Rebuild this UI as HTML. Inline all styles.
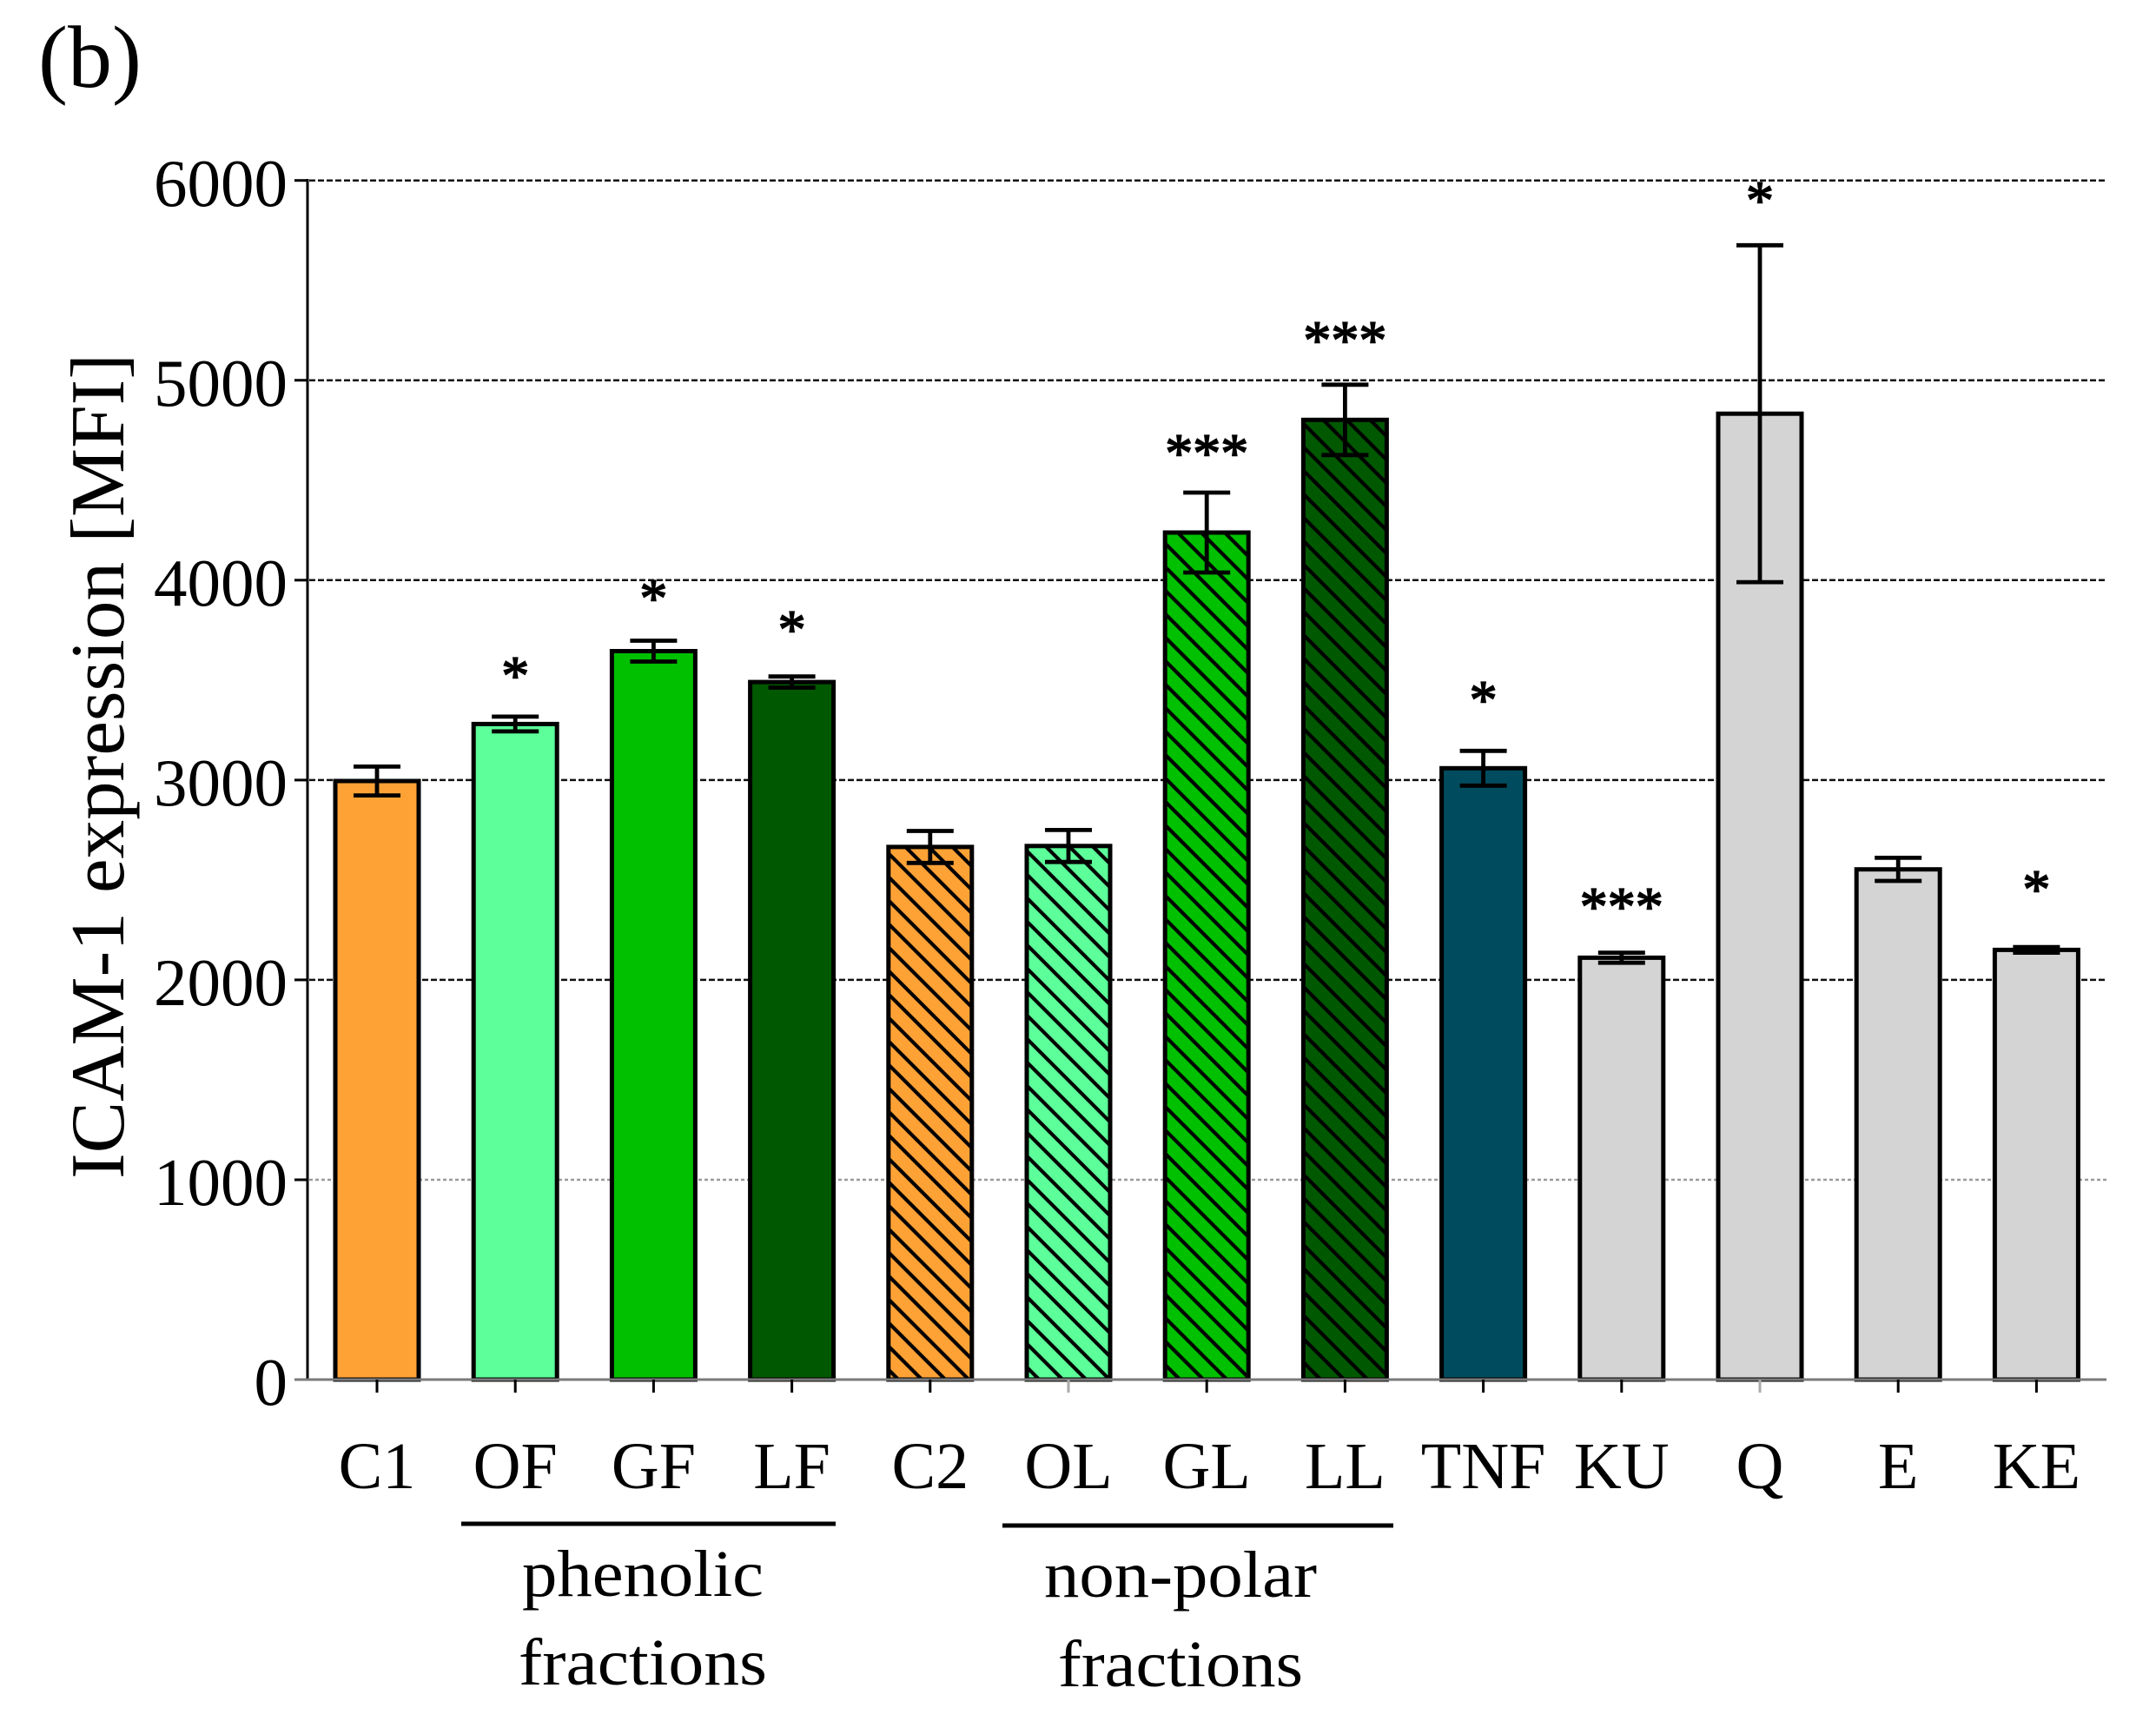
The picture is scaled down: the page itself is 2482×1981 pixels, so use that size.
<!DOCTYPE html>
<html>
<head>
<meta charset="utf-8">
<style>
  html, body { margin:0; padding:0; background:#fff; }
  svg { display:block; }
  text { font-family: "Liberation Serif", "DejaVu Serif", serif; fill:#000; }
</style>
</head>
<body>
<svg width="2482" height="1981" viewBox="0 0 2482 1981" xmlns="http://www.w3.org/2000/svg">
  <defs>
    <pattern id="h" patternUnits="userSpaceOnUse" width="19.1" height="19.1" patternTransform="rotate(45)">
      <line x1="-2" y1="9.55" x2="21.1" y2="9.55" stroke="#000" stroke-width="4.2"/>
    </pattern>
  </defs>
  <rect x="0" y="0" width="2482" height="1981" fill="#fff"/>

  <!-- panel label -->
  <text x="44" y="100" font-size="102">(b)</text>

  <!-- gridlines -->
  <g stroke="#111" stroke-width="2.5" stroke-dasharray="7 3">
    <line x1="356" y1="207.7" x2="2425" y2="207.7"/>
    <line x1="356" y1="437.7" x2="2425" y2="437.7"/>
    <line x1="356" y1="667.8" x2="2425" y2="667.8"/>
    <line x1="356" y1="897.9" x2="2425" y2="897.9"/>
    <line x1="356" y1="1127.9" x2="2425" y2="1127.9"/>
  </g>
  <line x1="356" y1="1358" x2="2425" y2="1358" stroke="#9a9a9a" stroke-width="2.5" stroke-dasharray="4 3"/>

  <!-- y axis -->
  <line x1="354" y1="206" x2="354" y2="1589" stroke="#000" stroke-width="3"/>
  <g stroke="#000" stroke-width="3">
    <line x1="339" y1="207.7" x2="354" y2="207.7"/>
    <line x1="339" y1="437.7" x2="354" y2="437.7"/>
    <line x1="339" y1="667.8" x2="354" y2="667.8"/>
    <line x1="339" y1="897.9" x2="354" y2="897.9"/>
    <line x1="339" y1="1127.9" x2="354" y2="1127.9"/>
    <line x1="339" y1="1358" x2="354" y2="1358"/>
  </g>
  <g font-size="77" text-anchor="end">
    <text x="331" y="237">6000</text>
    <text x="331" y="467">5000</text>
    <text x="331" y="697">4000</text>
    <text x="331" y="927">3000</text>
    <text x="331" y="1157">2000</text>
    <text x="331" y="1387">1000</text>
    <text x="331" y="1617">0</text>
  </g>

  <!-- y label -->
  <text transform="translate(142,882) rotate(-90)" font-size="88" text-anchor="middle" textLength="950" lengthAdjust="spacingAndGlyphs">ICAM-1 expression [MFI]</text>

  <!-- bars -->
  <g stroke="#000" stroke-width="5">
    <rect x="386" y="899.0" width="96" height="689" fill="#FFA236"/>
    <rect x="545.2" y="833.4" width="96" height="754.6" fill="#5CFF99"/>
    <rect x="704.4" y="749.5" width="96" height="838.5" fill="#00C000"/>
    <rect x="863.6" y="785.1" width="96" height="802.9" fill="#005800"/>
    <rect x="1022.8" y="974.9" width="96" height="613.1" fill="#FFA236" stroke="none"/>
    <rect x="1022.8" y="974.9" width="96" height="613.1" fill="url(#h)"/>
    <rect x="1182" y="973.8" width="96" height="614.2" fill="#5CFF99" stroke="none"/>
    <rect x="1182" y="973.8" width="96" height="614.2" fill="url(#h)"/>
    <rect x="1341.2" y="613.0" width="96" height="975" fill="#00C000" stroke="none"/>
    <rect x="1341.2" y="613.0" width="96" height="975" fill="url(#h)"/>
    <rect x="1500.4" y="483.3" width="96" height="1104.7" fill="#005800" stroke="none"/>
    <rect x="1500.4" y="483.3" width="96" height="1104.7" fill="url(#h)"/>
    <rect x="1659.6" y="884.3" width="96" height="703.7" fill="#004C5E"/>
    <rect x="1818.8" y="1102.4" width="96" height="485.6" fill="#D4D4D4"/>
    <rect x="1978" y="476.2" width="96" height="1111.8" fill="#D4D4D4"/>
    <rect x="2137.2" y="1000.7" width="96" height="587.3" fill="#D4D4D4"/>
    <rect x="2296.4" y="1093.4" width="96" height="494.6" fill="#D4D4D4"/>
  </g>

  <!-- error bars -->
  <g stroke="#000" stroke-width="4.8" fill="none">
    <path d="M434 882.4V915.6M407 882.4H461M407 915.6H461"/>
    <path d="M593.2 824.9V841.9M566.2 824.9H620.2M566.2 841.9H620.2"/>
    <path d="M752.4 737.5V761.5M725.4 737.5H779.4M725.4 761.5H779.4"/>
    <path d="M911.6 778.7V791.5M884.6 778.7H938.6M884.6 791.5H938.6"/>
    <path d="M1070.8 956.5V993.3M1043.8 956.5H1097.8M1043.8 993.3H1097.8"/>
    <path d="M1230 955.4V992.2M1203 955.4H1257M1203 992.2H1257"/>
    <path d="M1389.2 567V659M1362.2 567H1416.2M1362.2 659H1416.2"/>
    <path d="M1548.4 442.8V523.8M1521.4 442.8H1575.4M1521.4 523.8H1575.4"/>
    <path d="M1707.6 864.3V904.3M1680.6 864.3H1734.6M1680.6 904.3H1734.6"/>
    <path d="M1866.8 1096.6V1108.2M1839.8 1096.6H1893.8M1839.8 1108.2H1893.8"/>
    <path d="M2026 282.3V670.1M1999 282.3H2053M1999 670.1H2053"/>
    <path d="M2185.2 987.4V1014M2158.2 987.4H2212.2M2158.2 1014H2212.2"/>
    <path d="M2344.4 1090.2V1096.6M2317.4 1090.2H2371.4M2317.4 1096.6H2371.4"/>
  </g>

  <!-- significance stars -->
  <g font-size="64" text-anchor="middle" stroke="#000" stroke-width="1.6">
    <text x="593.2" y="799">*</text>
    <text x="752.4" y="710">*</text>
    <text x="911.6" y="746">*</text>
    <text x="1389.2" y="543">***</text>
    <text x="1548.4" y="413">***</text>
    <text x="1707.6" y="827">*</text>
    <text x="1866.8" y="1065">***</text>
    <text x="2026" y="252">*</text>
    <text x="2344.4" y="1045">*</text>
  </g>

  <!-- x axis -->
  <line x1="339" y1="1588" x2="2425" y2="1588" stroke="#7a7a7a" stroke-width="3"/>
  <g stroke="#000" stroke-width="3">
    <line x1="434" y1="1588" x2="434" y2="1603"/>
    <line x1="593.2" y1="1588" x2="593.2" y2="1603"/>
    <line x1="752.4" y1="1588" x2="752.4" y2="1603"/>
    <line x1="911.6" y1="1588" x2="911.6" y2="1603"/>
    <line x1="1070.8" y1="1588" x2="1070.8" y2="1603"/>
    <line x1="1230" y1="1588" x2="1230" y2="1603" stroke="#aaa"/>
    <line x1="1389.2" y1="1588" x2="1389.2" y2="1603"/>
    <line x1="1548.4" y1="1588" x2="1548.4" y2="1603"/>
    <line x1="1707.6" y1="1588" x2="1707.6" y2="1603"/>
    <line x1="1866.8" y1="1588" x2="1866.8" y2="1603"/>
    <line x1="2026" y1="1588" x2="2026" y2="1603" stroke="#aaa"/>
    <line x1="2185.2" y1="1588" x2="2185.2" y2="1603"/>
    <line x1="2344.4" y1="1588" x2="2344.4" y2="1603"/>
  </g>

  <g font-size="76" text-anchor="middle">
    <text x="434" y="1713">C1</text>
    <text x="593.2" y="1713">OF</text>
    <text x="752.4" y="1713">GF</text>
    <text x="911.6" y="1713">LF</text>
    <text x="1070.8" y="1713">C2</text>
    <text x="1230" y="1713">OL</text>
    <text x="1389.2" y="1713">GL</text>
    <text x="1548.4" y="1713">LL</text>
    <text x="1707.6" y="1713">TNF</text>
    <text x="1866.8" y="1713">KU</text>
    <text x="2026" y="1713">Q</text>
    <text x="2185.2" y="1713">E</text>
    <text x="2344.4" y="1713">KE</text>
  </g>

  <!-- group labels -->
  <line x1="531" y1="1754" x2="962" y2="1754" stroke="#000" stroke-width="5"/>
  <line x1="1154" y1="1756" x2="1604" y2="1756" stroke="#000" stroke-width="5"/>
  <g font-size="76" text-anchor="middle">
    <text x="740" y="1837" textLength="278" lengthAdjust="spacingAndGlyphs">phenolic</text>
    <text x="740" y="1939" textLength="286" lengthAdjust="spacingAndGlyphs">fractions</text>
    <text x="1359" y="1838" textLength="314" lengthAdjust="spacingAndGlyphs">non-polar</text>
    <text x="1359" y="1941" textLength="282" lengthAdjust="spacingAndGlyphs">fractions</text>
  </g>
</svg>
</body>
</html>
